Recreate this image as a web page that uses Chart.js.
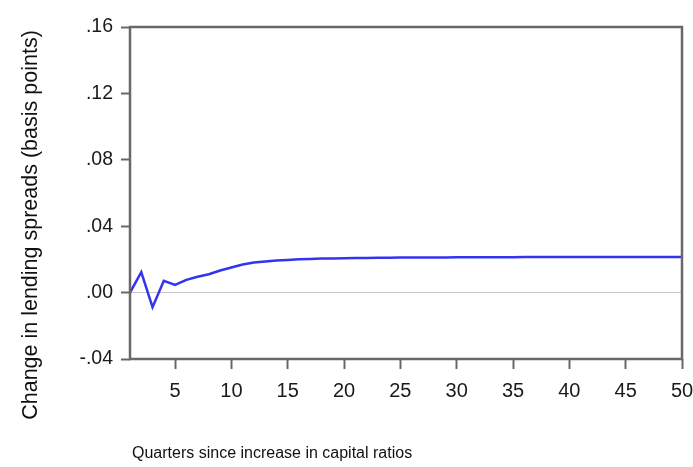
<!DOCTYPE html>
<html>
<head>
<meta charset="utf-8">
<script src="https://cdn.jsdelivr.net/npm/chart.js@4"></script>
<style>
    body { margin: 0; background: #fff; }
    #wrap { width: 693px; height: 467px; }
</style>
</head>
<body>
<div id="wrap"><canvas id="spreadChart" width="693" height="467"></canvas></div>
<script>
// Response of lending spreads to a capital ratio increase
const quarters = [];
for (let q = 1; q <= 50; q++) quarters.push(q);

const spreadChange = [
    0.0000, 0.0123, -0.0088, 0.0071, 0.0046, 0.0077, 0.0095, 0.0111, 0.0133, 0.0151,
    0.0169, 0.0181, 0.0187, 0.0193, 0.0197, 0.0201, 0.0203, 0.0205, 0.0206, 0.0207,
    0.0208, 0.0209, 0.0210, 0.0210, 0.0211, 0.0211, 0.0212, 0.0212, 0.0212, 0.0213,
    0.0213, 0.0213, 0.0213, 0.0213, 0.0213, 0.0214, 0.0214, 0.0214, 0.0214, 0.0214,
    0.0214, 0.0214, 0.0214, 0.0214, 0.0214, 0.0214, 0.0214, 0.0214, 0.0214, 0.0214
];

const xTicks = [5, 10, 15, 20, 25, 30, 35, 40, 45, 50];
const yTicks = [-0.04, 0.00, 0.04, 0.08, 0.12, 0.16];

const yTitle = 'Change in lending spreads (basis points)';
const xTitle = 'Quarters since increase in capital ratios';

const frameColor = '#686868';
const fontFamily = '"Liberation Sans", Arial, sans-serif';

// Frame around plot + axis titles
const framePlugin = {
    id: 'frame',
    afterDatasetsDraw(chart) {
        const { ctx, chartArea: a } = chart;
        ctx.save();
        ctx.strokeStyle = frameColor;
        ctx.lineWidth = 2.5;
        ctx.strokeRect(a.left, a.top, a.right - a.left, a.bottom - a.top);
        ctx.restore();
    },
    afterDraw(chart) {
        const { ctx, chartArea: a } = chart;
        ctx.save();
        ctx.fillStyle = '#111';
        ctx.font = '16px ' + fontFamily;
        ctx.textAlign = 'left';
        ctx.textBaseline = 'alphabetic';
        ctx.fillText(xTitle, a.left + 2, 458);

        ctx.translate(37, 225);
        ctx.rotate(-Math.PI / 2);
        ctx.font = '21.5px ' + fontFamily;
        ctx.textAlign = 'center';
        ctx.fillText(yTitle, 0, 0);
        ctx.restore();
    }
};

const fmtY = v => {
    const s = Math.abs(v).toFixed(2).replace(/^0/, '');
    return (v < -1e-9 ? '-' : '') + s;
};

const ctx = document.getElementById('spreadChart').getContext('2d');

const spreadChart = new Chart(ctx, {
    type: 'line',
    data: {
        datasets: [{
            data: quarters.map((q, i) => ({ x: q, y: spreadChange[i] })),
            borderColor: '#3434f0',
            borderWidth: 2.5,
            pointRadius: 0,
            tension: 0,
            fill: false
        }]
    },
    options: {
        responsive: false,
        animation: false,
        layout: { padding: { top: 27, right: 0, left: 0, bottom: 0 } },
        plugins: {
            legend: { display: false },
            tooltip: { enabled: false }
        },
        scales: {
            x: {
                type: 'linear',
                min: 1,
                max: 50,
                afterBuildTicks: scale => { scale.ticks = xTicks.map(v => ({ value: v })); },
                afterFit: scale => {
                    scale.height = 108;
                    scale.paddingRight = 11;
                },
                border: { display: false },
                grid: {
                    drawOnChartArea: false,
                    tickColor: frameColor,
                    tickLength: 10,
                    tickWidth: 2
                },
                ticks: {
                    color: '#1a1a1a',
                    font: { family: fontFamily, size: 20 },
                    padding: 10,
                    maxRotation: 0,
                    autoSkip: false
                }
            },
            y: {
                min: -0.04,
                max: 0.16,
                afterBuildTicks: scale => { scale.ticks = yTicks.map(v => ({ value: v })); },
                afterFit: scale => { scale.width = 130; },
                border: { display: false },
                grid: {
                    color: c => (c.tick && Math.abs(c.tick.value) < 1e-9) ? '#c8c8c8' : 'rgba(0,0,0,0)',
                    lineWidth: 1,
                    tickColor: frameColor,
                    tickLength: 9,
                    tickWidth: 2
                },
                ticks: {
                    color: '#1a1a1a',
                    font: { family: fontFamily, size: 19.5 },
                    padding: 8,
                    callback: v => fmtY(v)
                }
            }
        }
    },
    plugins: [framePlugin]
});
</script>
</body>
</html>
